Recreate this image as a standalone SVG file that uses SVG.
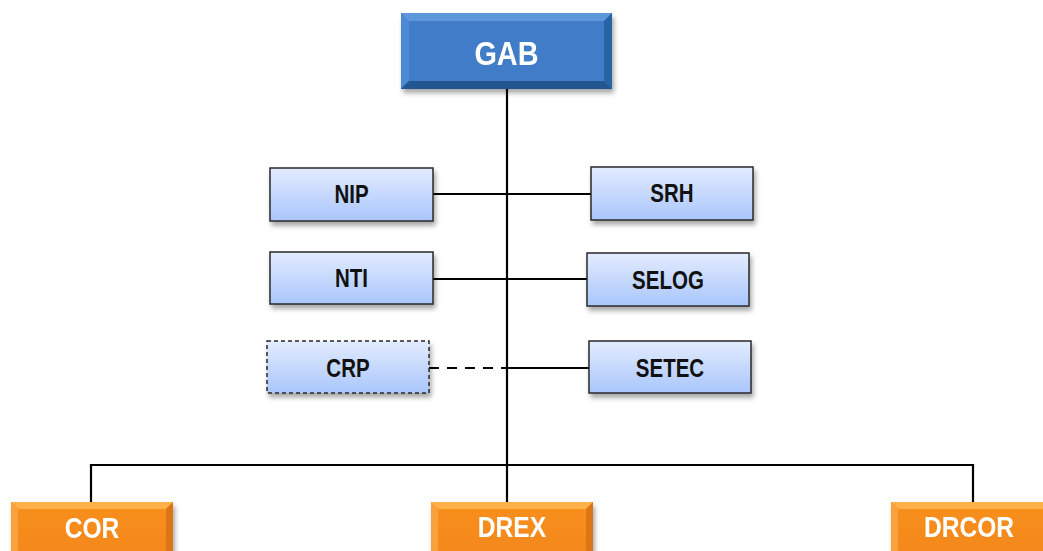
<svg xmlns="http://www.w3.org/2000/svg" width="1043" height="551" viewBox="0 0 1043 551">
<defs>
<linearGradient id="lb" x1="0" y1="0" x2="0" y2="1"><stop offset="0" stop-color="#e3ecff"/><stop offset="1" stop-color="#a9c6fb"/></linearGradient>
<linearGradient id="bl" x1="0" y1="0" x2="0" y2="1"><stop offset="0" stop-color="#4683cf"/><stop offset="1" stop-color="#3570b9"/></linearGradient>
<linearGradient id="or" x1="0" y1="0" x2="0" y2="1"><stop offset="0" stop-color="#f8901f"/><stop offset="1" stop-color="#f3861a"/></linearGradient>
<filter id="sh" x="-10%" y="-20%" width="130%" height="160%"><feGaussianBlur in="SourceAlpha" stdDeviation="2.5"/><feOffset dx="2" dy="4"/><feComponentTransfer><feFuncA type="linear" slope="0.35"/></feComponentTransfer><feMerge><feMergeNode/><feMergeNode in="SourceGraphic"/></feMerge></filter>
</defs>
<style>
.lb{fill:url(#lb);stroke:#2a2a2a;stroke-width:1.5;filter:url(#sh)}
.dash{stroke-dasharray:4 3}
.t{font-family:"Liberation Sans",Arial,sans-serif;font-weight:bold;text-anchor:middle}
.dk{fill:#111;font-size:25px}
.wt{fill:#fff}
.ln{stroke:#000;stroke-width:2.2;fill:none}
</style>
<rect width="1043" height="551" fill="#fff"/>
<g id="connectors">
<line class="ln" x1="507" y1="89" x2="507" y2="503"/>
<line class="ln" x1="433" y1="194" x2="591" y2="194"/>
<line class="ln" x1="433" y1="279" x2="587" y2="279"/>
<line class="ln" x1="429" y1="368" x2="505" y2="368" stroke-dasharray="10 8"/>
<line class="ln" x1="505" y1="368" x2="589" y2="368"/>
<polyline class="ln" points="91,503 91,465 973,465 973,503"/>
</g>
<g id="GAB" filter="url(#sh)">
<rect x="401" y="13" width="211" height="76" fill="url(#bl)"/>
<polygon points="401,13 612,13 604,21 409,21" fill="#5e97dc"/>
<polygon points="401,13 409,21 409,81 401,89" fill="#4d8ad6"/>
<polygon points="612,13 604,21 604,81 612,89" fill="#2b62a6"/>
<polygon points="401,89 409,81 604,81 612,89" fill="#245791"/>
<rect x="409" y="21" width="195" height="60" fill="#3f7cc7"/>
<text class="t wt" transform="translate(506.5,65) scale(0.85,1)" font-size="34">GAB</text>
</g>
<g id="NIP"><rect class="lb" x="270" y="168" width="163" height="53"/><text class="t dk" transform="translate(351.5,203) scale(0.82,1)">NIP</text></g>
<g id="SRH"><rect class="lb" x="591" y="167" width="162" height="53"/><text class="t dk" transform="translate(672,202) scale(0.82,1)">SRH</text></g>
<g id="NTI"><rect class="lb" x="270" y="252" width="163" height="52"/><text class="t dk" transform="translate(351.5,287) scale(0.82,1)">NTI</text></g>
<g id="SELOG"><rect class="lb" x="587" y="253" width="162" height="53"/><text class="t dk" transform="translate(668,289) scale(0.82,1)">SELOG</text></g>
<g id="CRP"><rect class="lb dash" x="267" y="341" width="162" height="52"/><text class="t dk" transform="translate(348,377) scale(0.82,1)">CRP</text></g>
<g id="SETEC"><rect class="lb" x="589" y="341" width="162" height="52"/><text class="t dk" transform="translate(670,377) scale(0.82,1)">SETEC</text></g>
<g id="COR" filter="url(#sh)">
<rect x="11" y="502" width="162" height="60" fill="url(#or)"/>
<polygon points="11,502 173,502 166,509 18,509" fill="#ffb04a"/>
<polygon points="11,502 18,509 18,562 11,562" fill="#f9a23b"/>
<polygon points="173,502 166,509 166,562 173,562" fill="#dc7412"/>
<text class="t wt" transform="translate(92,538) scale(0.82,1)" font-size="30">COR</text>
</g>
<g id="DREX" filter="url(#sh)">
<rect x="431" y="502" width="162" height="60" fill="url(#or)"/>
<polygon points="431,502 593,502 586,509 438,509" fill="#ffb04a"/>
<polygon points="431,502 438,509 438,562 431,562" fill="#f9a23b"/>
<polygon points="593,502 586,509 586,562 593,562" fill="#dc7412"/>
<text class="t wt" transform="translate(512,537) scale(0.82,1)" font-size="30">DREX</text>
</g>
<g id="DRCOR" filter="url(#sh)">
<rect x="891" y="502" width="162" height="60" fill="url(#or)"/>
<polygon points="891,502 1053,502 1046,509 898,509" fill="#ffb04a"/>
<polygon points="891,502 898,509 898,562 891,562" fill="#f9a23b"/>
<text class="t wt" transform="translate(969,537) scale(0.82,1)" font-size="30">DRCOR</text>
</g>
</svg>
